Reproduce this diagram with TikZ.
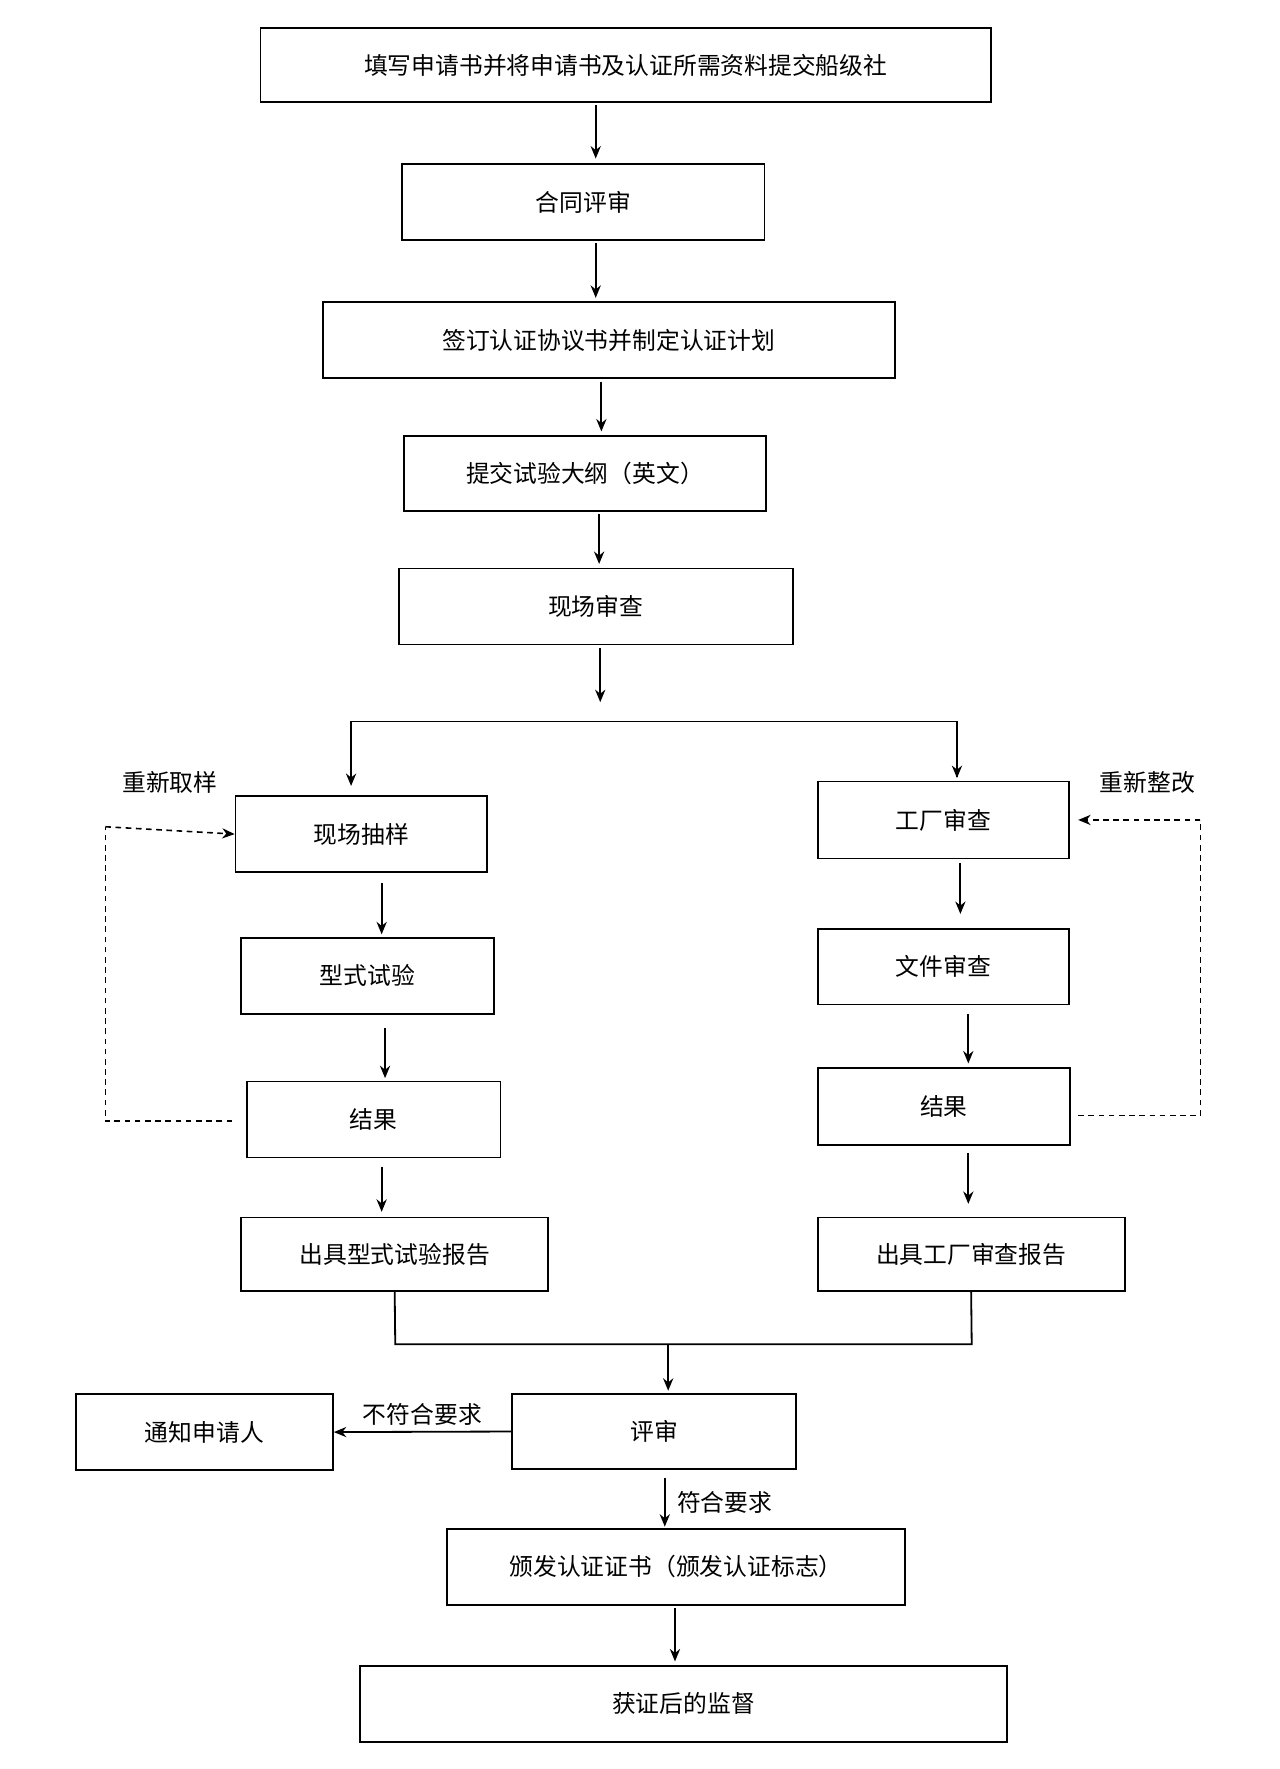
\documentclass[tikz,border=0pt]{standalone}
\usepackage{fontspec}
\setmainfont{Noto Sans CJK SC}
\usetikzlibrary{arrows.meta}
\begin{document}
\begin{tikzpicture}[x=1pt,y=-1pt,
 box/.style={draw,line width=1.6pt,inner sep=0pt,font=\fontsize{21}{24}\selectfont},
 arr/.style={line width=1.6pt,-{Stealth[length=11pt,width=9pt]}},
 dsh/.style={line width=1.4pt,dashed,dash pattern=on 5pt off 4pt},
 lab/.style={font=\fontsize{21}{24}\selectfont,inner sep=0pt}]
\useasboundingbox (0,0) rectangle (1130,1562);
\newcommand{\bx}[6]{\node[box,minimum width=#4-#2,minimum height=#5-#3] (#1) at ({(#2+#4)/2},{(#3+#5)/2}) {#6};}
\bx{a}{230}{25}{875}{90}{填写申请书并将申请书及认证所需资料提交船级社}
\bx{b}{355}{145}{675}{212}{合同评审}
\bx{c}{285}{267}{790}{334}{签订认证协议书并制定认证计划}
\bx{d}{357}{385}{676}{451}{提交试验大纲（英文）}
\bx{e}{352}{502}{700}{569}{现场审查}
\bx{l1}{208}{703}{430}{770}{现场抽样}
\bx{l2}{213}{828}{436}{895}{型式试验}
\bx{l3}{218}{955}{442}{1022}{结果}
\bx{l4}{213}{1075}{484}{1140}{出具型式试验报告}
\bx{r1}{722}{690}{944}{758}{工厂审查}
\bx{r2}{722}{820}{944}{887}{文件审查}
\bx{r3}{722}{943}{945}{1011}{结果}
\bx{r4}{722}{1075}{993}{1140}{出具工厂审查报告}
\bx{f}{452}{1231}{703}{1297}{评审}
\bx{n}{67}{1231}{294}{1298}{通知申请人}
\bx{g}{395}{1350}{799}{1417}{颁发认证证书（颁发认证标志）}
\bx{h}{318}{1471}{889}{1538}{获证后的监督}
\draw[arr] (526,93) -- (526,140);
\draw[arr] (526,215) -- (526,263);
\draw[arr] (531,337) -- (531,381);
\draw[arr] (529,454) -- (529,498);
\coordinate (s) at (530,637);
\draw[arr] (530,572) -- (530,620);
\draw[line width=1.6pt] (310,692) -- (310,637) -- (845,637) -- (845,686);
\draw[arr] (310,650) -- (310,694);
\draw[arr] (845,650) -- (845,687);
\draw[arr] (337,780) -- (337,825);
\draw[arr] (340,908) -- (340,952);
\draw[arr] (337,1030) -- (337,1070);
\draw[arr] (848,762) -- (848,807);
\draw[arr] (855,895) -- (855,939);
\draw[arr] (855,1018) -- (855,1063);
\draw[dsh] (205,990) -- (93,990) -- (93,730);
\draw[dsh,-{Stealth[length=11pt,width=9pt]}] (93,730) -- (l1.west);
\node[lab] at (150,691) {重新取样};
\draw[dsh] (952,985) -- (1060,985) -- (1060,724);
\draw[dsh,-{Stealth[length=11pt,width=9pt]}] (1060,724) -- (952,724);
\node[lab] at (1013,691) {重新整改};
\draw[line width=1.6pt] (l4.south) -- (349,1187) -- (858,1187) -- (r4.south);
\draw[arr] (590,1187) -- (590,1228);
\draw[arr] (f.west) -- (n.east) node[lab,midway,above=5pt] {不符合要求};
\draw[arr] (587,1305) -- (587,1348) node[lab,midway,right=10pt] {符合要求};
\draw[arr] (596,1420) -- (596,1467);
\end{tikzpicture}
\end{document}
